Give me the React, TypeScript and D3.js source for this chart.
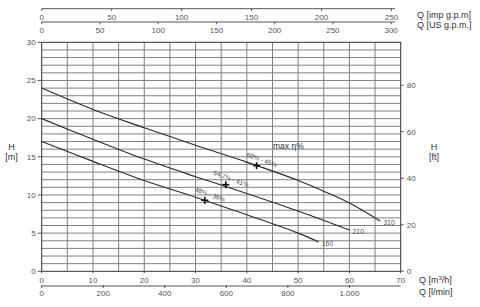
import React from "react";
import * as d3 from "d3";

const qTicks = [0, 10, 20, 30, 40, 50, 60, 70];
const hTicks = [0, 5, 10, 15, 20, 25, 30];
const ftTicks = [0, 20, 40, 60, 80];
const lminTicks = [0, 200, 400, 600, 800, 1000];
const lminLabels = ["0", "200", "400", "600", "800", "1.000"];
const impTicks = [0, 50, 100, 150, 200, 250];
const usTicks = [0, 50, 100, 150, 200, 250, 300];

const curve310: [number, number][] = [[0, 24], [10, 21.2], [20, 18.8], [30, 16.5], [40, 14.3], [50, 11.9], [55, 10.5], [60, 8.95], [66, 6.6]];
const curve210: [number, number][] = [[0, 20], [10, 17.3], [20, 14.7], [30, 12.4], [40, 10.2], [50, 7.9], [60, 5.4]];
const curve160: [number, number][] = [[0, 17], [10, 14.4], [20, 11.9], [30, 9.7], [40, 7.4], [50, 5.0], [54, 3.85]];
const curveNames = ["310", "210", "160"];
const curves = [curve310, curve210, curve160];

const bepQ = [41.9, 35.9, 31.8];
const bepH = [13.84, 11.35, 9.3];
const bepLabels = ["60% - 45%", "54,7% - 41%", "48% - 36%"];

const W = 480, H = 307;
const x = d3.scaleLinear().domain([0, 70]).range([41.7, 400.7]);
const y = d3.scaleLinear().domain([0, 30]).range([271.3, 42.3]);
const M3H_PER_LMIN = 60 / 1000;
const M3H_PER_IMP = 1 / 3.666;
const M3H_PER_US = 1 / 4.403;
const M_PER_FT = 0.3048;

const font = "'Liberation Sans', Arial, sans-serif";
const gridColor = "#808080";
const tickColor = "#555";

export default function App() {
  const line = d3.line<[number, number]>().x(d => x(d[0])).y(d => y(d[1])).curve(d3.curveCatmullRom);
  const vGrid = d3.range(5, 70, 5);
  const hGrid = d3.range(1, 30, 1);
  return (
    <svg width={W} height={H} style={{ position: "absolute", left: 0, top: 0, background: "#fff" }} fontFamily={font}>
      {/* grid */}
      {vGrid.map(v => (
        <line key={"v" + v} x1={x(v)} x2={x(v)} y1={y(0)} y2={y(30)} stroke={gridColor} strokeWidth={1} />
      ))}
      {hGrid.map(v => (
        <line key={"h" + v} x1={x(0)} x2={x(70)} y1={y(v)} y2={y(v)} stroke={gridColor} strokeWidth={1} />
      ))}
      <rect x={x(0)} y={y(30)} width={x(70) - x(0)} height={y(0) - y(30)} fill="none" stroke="#333" strokeWidth={1} />

      {/* left axis */}
      {hTicks.map(v => (
        <g key={"lt" + v}>
          <line x1={x(0) - 4} x2={x(0)} y1={y(v)} y2={y(v)} stroke="#555" />
          <text x={x(0) - 6} y={y(v) + 2.8} fontSize={8} textAnchor="end" fill={tickColor}>{v}</text>
        </g>
      ))}
      <text x={11.5} y={150} fontSize={9} textAnchor="middle" fill="#333">H</text>
      <text x={11.5} y={160} fontSize={9} textAnchor="middle" fill="#333">[m]</text>

      {/* right axis (ft) */}
      {ftTicks.map(v => (
        <g key={"rt" + v}>
          <line x1={x(70)} x2={x(70) + 3} y1={y(v * M_PER_FT)} y2={y(v * M_PER_FT)} stroke="#555" />
          <text x={x(70) + 6} y={y(v * M_PER_FT) + 2.8} fontSize={8} textAnchor="start" fill={tickColor}>{v}</text>
        </g>
      ))}
      <text x={434} y={150} fontSize={9} textAnchor="middle" fill="#333">H</text>
      <text x={434} y={160} fontSize={9} textAnchor="middle" fill="#333">[ft]</text>

      {/* bottom m3/h */}
      {qTicks.map(v => (
        <g key={"bq" + v}>
          <line x1={x(v)} x2={x(v)} y1={y(0)} y2={y(0) + 2} stroke="#555" />
          <text x={x(v)} y={283} fontSize={8} textAnchor="middle" fill={tickColor}>{v}</text>
        </g>
      ))}
      {/* bottom l/min */}
      <line x1={x(0)} x2={x(70)} y1={286} y2={286} stroke="#555" strokeWidth={1} />
      {lminTicks.map((v, i) => (
        <g key={"bl" + v}>
          <line x1={x(v * M3H_PER_LMIN)} x2={x(v * M3H_PER_LMIN)} y1={285} y2={288} stroke="#555" />
          <text x={x(v * M3H_PER_LMIN)} y={296} fontSize={8} textAnchor="middle" fill={tickColor}>{lminLabels[i]}</text>
        </g>
      ))}
      <text x={419} y={282.5} fontSize={9} fill="#333">Q [m<tspan fontSize={6} dy={-3}>3</tspan><tspan dy={3}>/h]</tspan></text>
      <text x={419} y={294.5} fontSize={9} fill="#333">Q [l/min]</text>

      {/* top imp gpm */}
      <line x1={x(0)} x2={395} y1={8.7} y2={8.7} stroke="#555" />
      {impTicks.map(v => (
        <g key={"ti" + v}>
          <line x1={x(v * M3H_PER_IMP)} x2={x(v * M3H_PER_IMP)} y1={8.7} y2={11} stroke="#555" />
          <text x={x(v * M3H_PER_IMP)} y={19.5} fontSize={8} textAnchor="middle" fill={tickColor}>{v}</text>
        </g>
      ))}
      {/* top US gpm */}
      <line x1={x(0)} x2={395} y1={22} y2={22} stroke="#555" />
      {usTicks.map(v => (
        <g key={"tu" + v}>
          <line x1={x(v * M3H_PER_US)} x2={x(v * M3H_PER_US)} y1={22} y2={24.3} stroke="#555" />
          <text x={x(v * M3H_PER_US)} y={32.8} fontSize={8} textAnchor="middle" fill={tickColor}>{v}</text>
        </g>
      ))}
      <text x={417} y={18} fontSize={9} fill="#333">Q [imp g.p.m]</text>
      <text x={417} y={28} fontSize={9} fill="#333">Q [US g.p.m.]</text>

      {/* curves */}
      {curves.map((c, i) => (
        <g key={"c" + i}>
          <path d={line(c) || ""} fill="none" stroke="#2a2a2a" strokeWidth={1.1} />
          <text x={x(c[c.length - 1][0]) + 3} y={y(c[c.length - 1][1]) + 4} fontSize={7} fill={tickColor}>{curveNames[i]}</text>
        </g>
      ))}

      {/* best efficiency markers */}
      {bepQ.map((q, i) => {
        const px = x(q), py = y(bepH[i]);
        return (
          <g key={"m" + i}>
            <line x1={px - 3.5} x2={px + 3.5} y1={py} y2={py} stroke="#111" strokeWidth={1.6} />
            <line x1={px} x2={px} y1={py - 3.5} y2={py + 3.5} stroke="#111" strokeWidth={1.6} />
            <g transform={`translate(${px},${py}) rotate(20)`}>
              <text x={3} y={-5} fontSize={6.5} textAnchor="middle" fill="#444">{bepLabels[i]}</text>
            </g>
          </g>
        );
      })}
      <text x={273} y={148.5} fontSize={8.5} fill="#333">max η%</text>
    </svg>
  );
}
